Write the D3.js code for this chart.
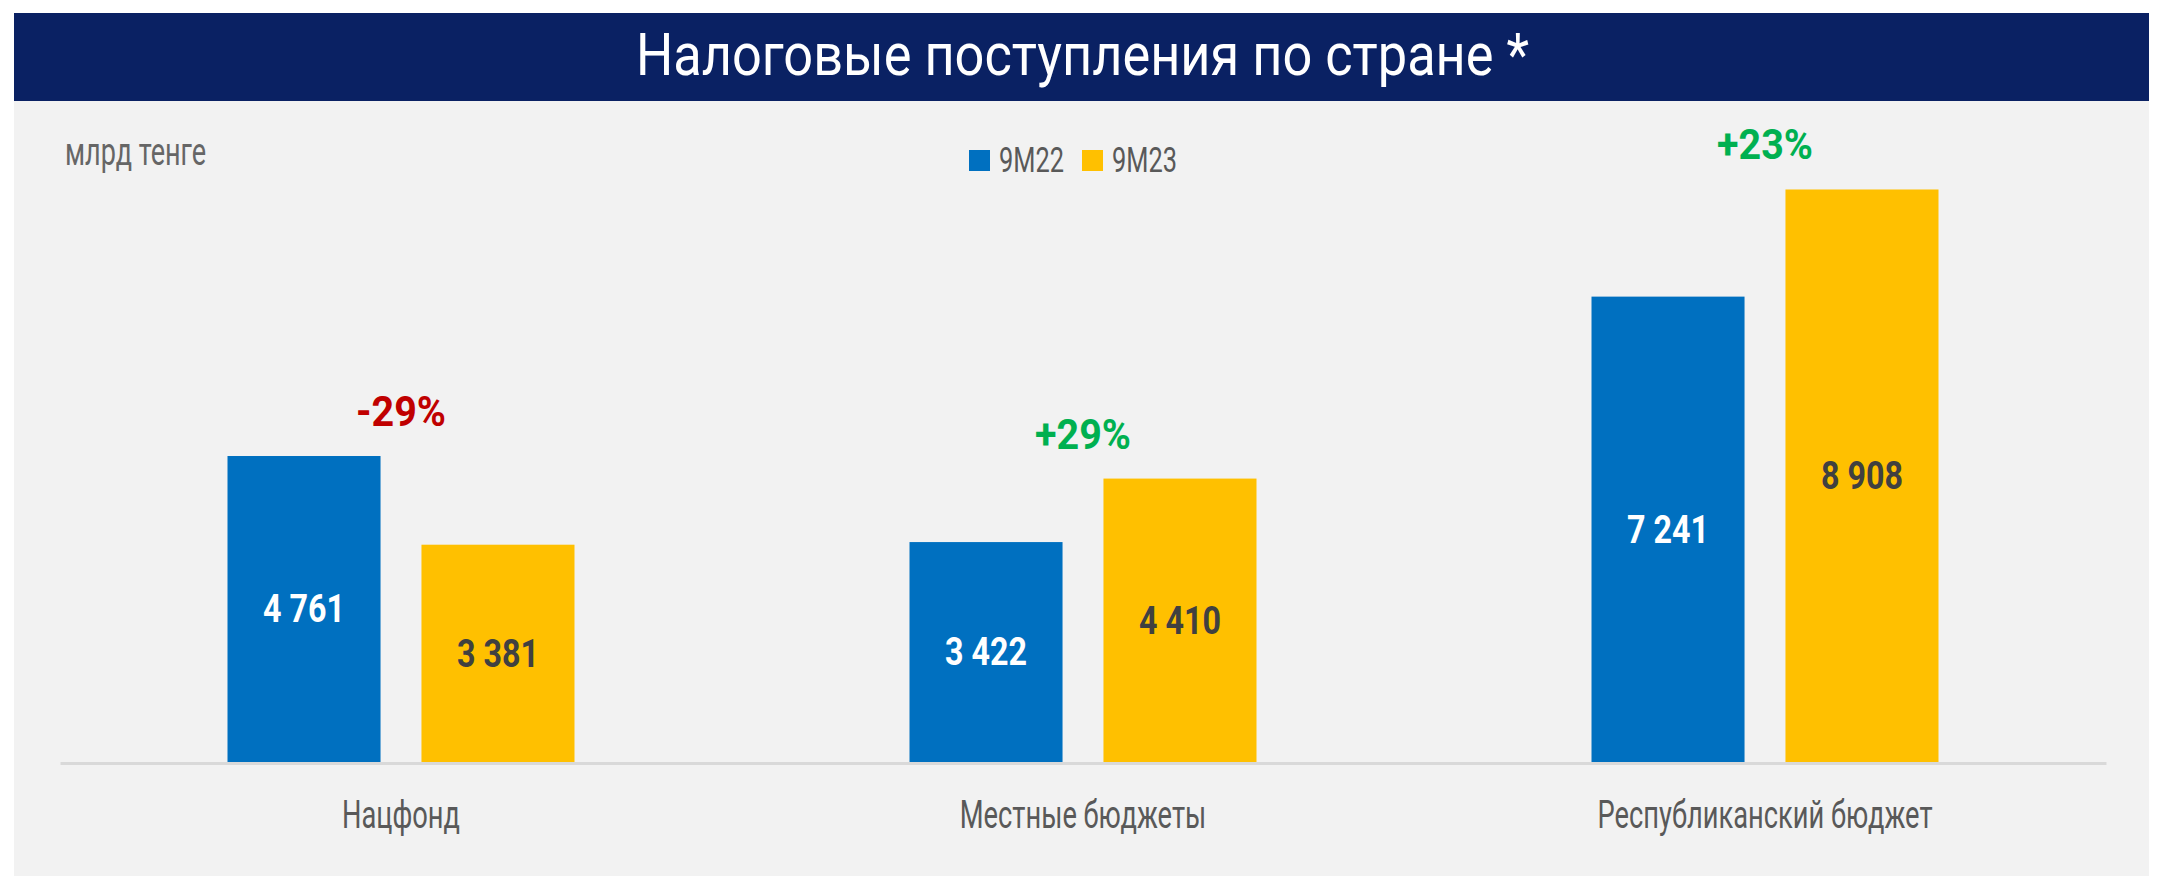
<!DOCTYPE html>
<html><head><meta charset="utf-8">
<script src="https://cdn.jsdelivr.net/npm/d3@7"></script>
<style>body{margin:0;background:#fff;} svg{display:block}</style>
</head><body>
<svg id="chart" width="2160" height="881"></svg>
<script>
const titleText = "Налоговые поступления по стране *";
const unitLabel = "млрд тенге";
const categories = ["Нацфонд", "Местные бюджеты", "Республиканский бюджет"];
const seriesNames = ["9M22", "9M23"];
const values9M22 = [4761, 3422, 7241];
const values9M23 = [3381, 4410, 8908];
const changeLabels = ["-29%", "+29%", "+23%"];

const seriesColors = ["#0070c0", "#ffc000"];
const labelColors = ["#ffffff", "#404040"];
const FONT = "Roboto, 'Liberation Sans', 'DejaVu Sans', sans-serif";

const svg = d3.select("#chart");

// condense text horizontally so that exemplar matches a target width
function condenseGroup(sel, exemplarTarget) {
  const nodes = sel.nodes();
  if (!nodes.length) return;
  const k = exemplarTarget / nodes[0].getComputedTextLength();
  nodes.forEach(n => {
    const w = n.getComputedTextLength();
    d3.select(n).attr("textLength", w * k).attr("lengthAdjust", "spacingAndGlyphs");
  });
}

// panel + header
svg.append("rect").attr("x", 14).attr("y", 13).attr("width", 2135).attr("height", 863).attr("fill", "#f2f2f2");
svg.append("rect").attr("x", 14).attr("y", 13).attr("width", 2135).attr("height", 88).attr("fill", "#0a2163");

const t = svg.append("text").attr("x", 1082.5).attr("y", 75).attr("text-anchor", "middle")
  .attr("font-family", FONT).attr("font-size", 60).attr("fill", "#ffffff").text(titleText);
condenseGroup(t, 893);

const u = svg.append("text").attr("x", 65).attr("y", 165)
  .attr("font-family", FONT).attr("font-size", 38).attr("fill", "#666666").text(unitLabel);
condenseGroup(u, 141);

// legend
const legend = svg.append("g").attr("transform", "translate(969,150)");
const li = legend.selectAll("g").data(seriesNames).join("g")
  .attr("transform", (d, i) => `translate(${i * 113},0)`);
li.append("rect").attr("width", 21).attr("height", 21).attr("fill", (d, i) => seriesColors[i]);
const lt = li.append("text").attr("x", 30).attr("y", 22)
  .attr("font-family", FONT).attr("font-size", 35).attr("fill", "#595959").text(d => d);
condenseGroup(lt, 65);

// scales
const x0 = d3.scaleBand().domain(categories).range([60, 2106]).paddingInner(0).paddingOuter(0);
const groupW = 347;
const x1 = d3.scaleBand().domain(seriesNames).range([0, groupW]).paddingInner(0.211).paddingOuter(0);
const y = d3.scaleLinear().domain([0, 10000]).range([762, 119.3]);

const rows = categories.map((c, i) => ({ cat: c, vals: [values9M22[i], values9M23[i]], change: changeLabels[i] }));

const groups = svg.selectAll("g.grp").data(rows).join("g").attr("class", "grp")
  .attr("transform", d => `translate(${x0(d.cat) + (x0.bandwidth() - groupW) / 2},0)`);

groups.selectAll("rect").data(d => d.vals.map((v, i) => ({ s: seriesNames[i], v, i }))).join("rect")
  .attr("x", d => x1(d.s)).attr("width", x1.bandwidth())
  .attr("y", d => y(d.v)).attr("height", d => y(0) - y(d.v))
  .attr("fill", d => seriesColors[d.i]);

const fmt = v => d3.format(",")(v).replace(/,/g, " ");
const vl = groups.selectAll("text.val").data(d => d.vals.map((v, i) => ({ s: seriesNames[i], v, i }))).join("text")
  .attr("class", "val")
  .attr("x", d => x1(d.s) + x1.bandwidth() / 2)
  .attr("y", d => (y(d.v) + y(0)) / 2).attr("dy", "0.35em")
  .attr("text-anchor", "middle").attr("font-family", FONT).attr("font-weight", "bold")
  .attr("font-size", 38).attr("fill", d => labelColors[d.i]).text(d => fmt(d.v));
condenseGroup(vl, 82);

const pl = groups.append("text").attr("class", "pct")
  .attr("x", groupW / 2)
  .attr("y", d => y(d3.max(d.vals)) - 30)
  .attr("text-anchor", "middle").attr("font-family", FONT).attr("font-weight", "bold")
  .attr("font-size", 42).attr("fill", d => d.change.startsWith("-") ? "#c00000" : "#00b050")
  .text(d => d.change);
condenseGroup(svg.selectAll("text.pct"), 90);

// axis
const axis = svg.append("g").attr("transform", "translate(0,763)")
  .call(d3.axisBottom(x0).tickSize(0).tickPadding(37));
axis.select(".domain").attr("stroke", "#d9d9d9").attr("stroke-width", 3);
const at = axis.selectAll(".tick text").attr("font-family", FONT).attr("font-size", 39).attr("fill", "#595959");
condenseGroup(at, 118);
</script>
</body></html>
